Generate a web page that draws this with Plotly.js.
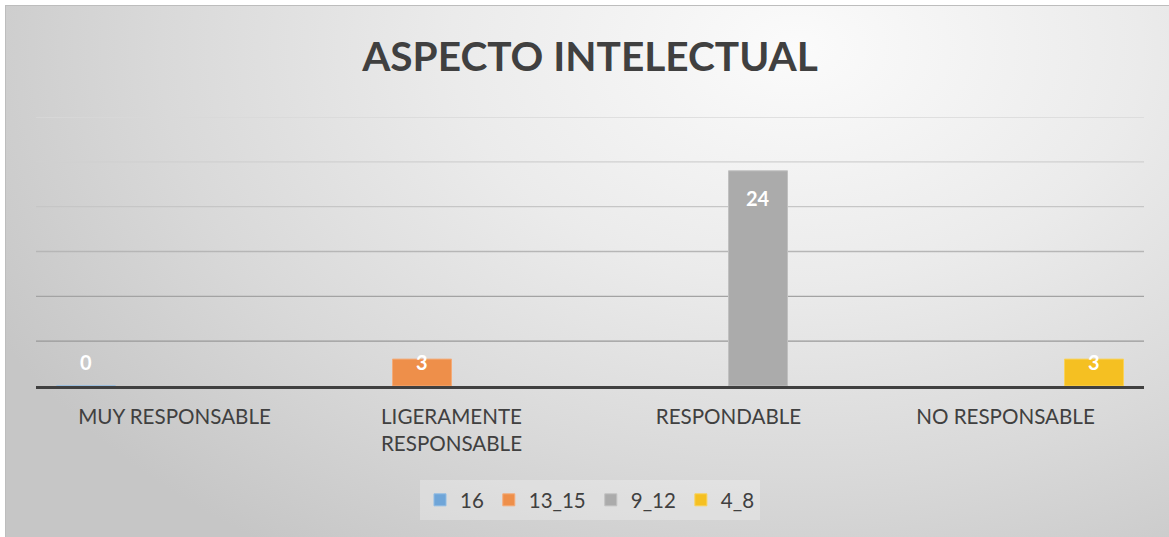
<!DOCTYPE html>
<html>
<head>
<meta charset="utf-8">
<script src="https://cdn.plot.ly/plotly-3.0.1.min.js"></script>
<style>
  html, body { margin: 0; padding: 0; background: #ffffff; }
  #chart {
    position: absolute; left: 5px; top: 5px; width: 1164px; height: 532px;
    background: radial-gradient(ellipse 78% 115% at 68% 8%, #fbfbfb 0%, #ebebeb 38%, #d9d9d9 70%, #c6c6c6 100%);
  }
  #frame {
    position: absolute; left: 5px; top: 5px; width: 1164px; height: 532px;
    border-top: 1px solid #bdbdbd; border-left: 1px solid #bdbdbd; box-sizing: border-box; pointer-events: none;
  }
</style>
</head>
<body>
<div id="chart"></div>
<div id="frame"></div>
<script>
// ---- data ----
const categories = ["MUY RESPONSABLE", "LIGERAMENTE<br>RESPONSABLE", "RESPONDABLE", "NO RESPONSABLE"];
const seriesNames = ["16", "13_15", "9_12", "4_8"];
const s16   = [0, null, null, null];
const s13_15 = [null, 3, null, null];
const s9_12  = [null, null, 24, null];
const s4_8   = [null, null, null, 3];
const chartTitle = "ASPECTO INTELECTUAL";

// ---- styles ----
const seriesValues = [s16, s13_15, s9_12, s4_8];
const colors = ["#6fa5d8", "#ee8f4a", "#ababab", "#f5c022"];
const edgeColors = ["#8fbbe3", "#f4ab78", "#c0c0c0", "#f9d25a"];
const FONT = "Lato, 'Open Sans', sans-serif";
const W = 1164, H = 532;
const margin = {l: 31, r: 25, t: 112, b: 151};
const yMax = 30, dtick = 5;
const bargap = 0.148;

const traces = seriesValues.map((vals, i) => ({
  type: "bar",
  name: seriesNames[i],
  x: categories,
  y: vals,
  marker: {color: colors[i], line: {color: edgeColors[i], width: 1}},
  hoverinfo: "skip"
}));

// data labels (Excel "inside end" style), placed with the axis scale
const plotH = H - margin.t - margin.b;
const ppu = plotH / yMax;
const slotW = (1 - bargap) / seriesValues.length;
const annotations = [];
seriesValues.forEach((vals, i) => {
  vals.forEach((v, j) => {
    if (v === null || v === undefined) return;
    const xPos = j - (1 - bargap) / 2 + slotW * (i + 0.5);
    const tall = v * ppu - 27 > 24;
    annotations.push({
      xref: "x", yref: "y",
      x: xPos, y: tall ? v : 0,
      yshift: tall ? -27 : 24,
      yanchor: "middle", xanchor: "center",
      text: String(v), showarrow: false,
      font: {family: FONT, size: 20, color: "#ffffff", weight: "bold"}
    });
  });
});

// gridlines (darker toward the bottom, as in the reference)
const gridColors = ["#989898", "#a3a3a3", "#b6b6b6", "#c6c6c6", "#d0d0d0", "#d8d8d8"];
const shapes = [];
let gi = 0;
for (let v = dtick; v <= yMax; v += dtick) {
  shapes.push({
    type: "line", xref: "paper", yref: "y", x0: 0, x1: 1, y0: v, y1: v,
    line: {color: gridColors[gi] || "#d8d8d8", width: 1.3}, layer: "below"
  });
  gi++;
}

const layout = {
  width: W, height: H,
  margin: margin,
  paper_bgcolor: "rgba(0,0,0,0)",
  plot_bgcolor: "rgba(0,0,0,0)",
  barmode: "group",
  bargap: bargap,
  bargroupgap: 0,
  font: {family: FONT, color: "#404040"},
  title: {
    text: chartTitle,
    font: {family: FONT, size: 40.6, color: "#404040", weight: "bold"},
    x: 0.5, xref: "paper", xanchor: "center",
    y: 1 - 52 / H, yref: "container", yanchor: "middle"
  },
  xaxis: {
    type: "category",
    showline: true, linecolor: "#404040", linewidth: 3,
    ticks: "", showgrid: false, zeroline: false,
    tickfont: {family: FONT, size: 20.6, color: "#404040"},
    ticklabelstandoff: 10
  },
  yaxis: {
    range: [0, yMax], dtick: dtick,
    showticklabels: false, showgrid: false, zeroline: false, showline: false, ticks: ""
  },
  legend: {
    orientation: "h",
    x: 0.5, xanchor: "center", xref: "paper",
    y: 1 - 495 / H, yref: "container", yanchor: "middle",
    bgcolor: "rgba(255,255,255,0.25)",
    font: {family: FONT, size: 20.5, color: "#404040"},
    itemwidth: 30,
    traceorder: "normal"
  },
  shapes: shapes,
  annotations: annotations,
  showlegend: true
};

Plotly.newPlot("chart", traces, layout, {displayModeBar: false, staticPlot: true});
</script>
</body>
</html>
